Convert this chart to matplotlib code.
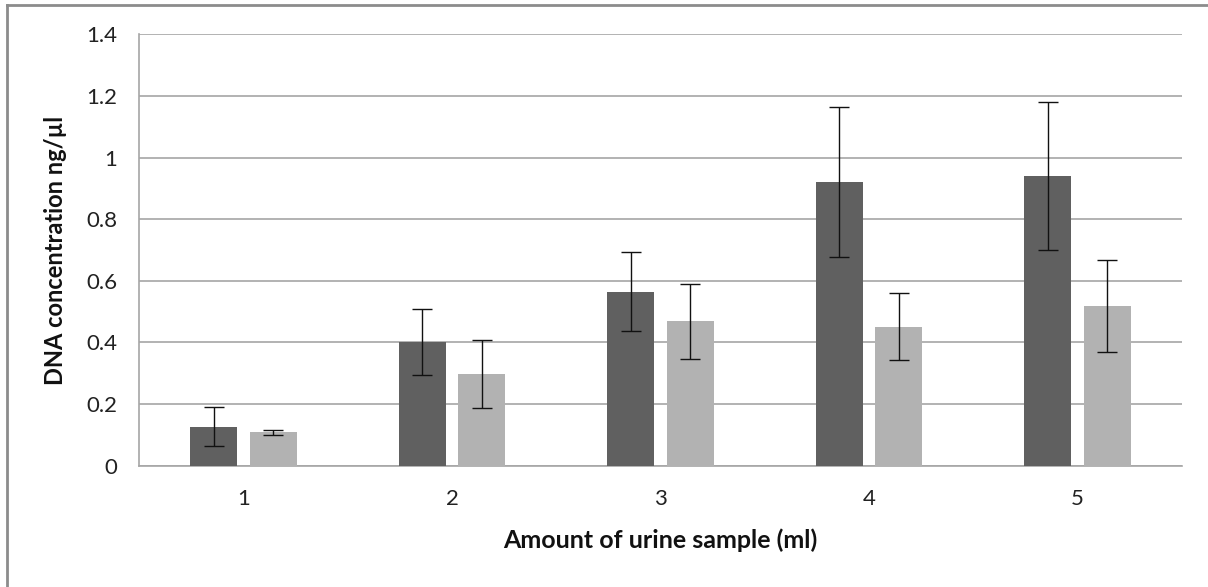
import matplotlib
matplotlib.use("Agg")
import matplotlib.pyplot as plt
import numpy as np
from matplotlib.lines import Line2D

categories = ["1", "2", "3", "4", "5"]
series_a = [0.127, 0.400, 0.565, 0.920, 0.940]
err_a = [0.062, 0.107, 0.129, 0.243, 0.240]
series_b = [0.109, 0.297, 0.468, 0.451, 0.518]
err_b = [0.008, 0.111, 0.121, 0.109, 0.149]
yticks = [0, 0.2, 0.4, 0.6, 0.8, 1, 1.2, 1.4]
ytick_labels = ["0", "0.2", "0.4", "0.6", "0.8", "1", "1.2", "1.4"]

plt.rcParams['font.family'] = ['Lato', 'DejaVu Sans']

fig = plt.figure(figsize=(12.08, 5.87), dpi=100)
ax = fig.add_axes([0.1153, 0.2066, 0.8630, 0.7350])

x = np.arange(1, len(categories) + 1)
w = 0.225
off = 0.143
ax.bar(x - off, series_a, width=w, color="#606060", zorder=3)
ax.bar(x + off, series_b, width=w, color="#b2b2b2", zorder=3)
ax.errorbar(x - off, series_a, yerr=err_a, fmt="none", ecolor="#111111",
            elinewidth=1.0, capsize=7, capthick=1.0, zorder=4)
ax.errorbar(x + off, series_b, yerr=err_b, fmt="none", ecolor="#111111",
            elinewidth=1.0, capsize=7, capthick=1.0, zorder=4)

ax.set_xlim(0.5, len(categories) + 0.5)
ax.set_ylim(0, 1.4)
ax.set_yticks(yticks)
ax.set_yticklabels(ytick_labels)
ax.set_xticks(x)
ax.set_xticklabels(categories)
ax.yaxis.grid(True, color="#a6a6a6", linewidth=1.2, zorder=0)
ax.set_axisbelow(True)
ax.tick_params(axis="both", length=0, labelsize=16, colors="#222222")
ax.tick_params(axis="y", pad=16)
ax.tick_params(axis="x", pad=17)
for s in ["top", "right"]:
    ax.spines[s].set_visible(False)
ax.spines["left"].set_color("#a6a6a6")
ax.spines["bottom"].set_color("#a6a6a6")
ax.spines["left"].set_linewidth(1.2)
ax.spines["bottom"].set_linewidth(1.2)

ax.set_xlabel("Amount of urine sample (ml)", fontsize=18, fontweight="bold",
              color="#111111")
ax.set_ylabel("DNA concentration ng/µl", fontsize=17, fontweight="bold",
              color="#111111")
ax.xaxis.set_label_coords(0.5, -0.146)
ax.yaxis.set_label_coords(-0.0694, 0.5)

# outer chart frame (top and left edges visible)
fig.add_artist(Line2D([0.0055, 1.0], [0.9923, 0.9923], transform=fig.transFigure,
                      color="#8c8c8c", linewidth=2))
fig.add_artist(Line2D([0.0055, 0.0055], [0.0, 0.9923], transform=fig.transFigure,
                      color="#8c8c8c", linewidth=2))

fig.savefig("out.png", dpi=100)
